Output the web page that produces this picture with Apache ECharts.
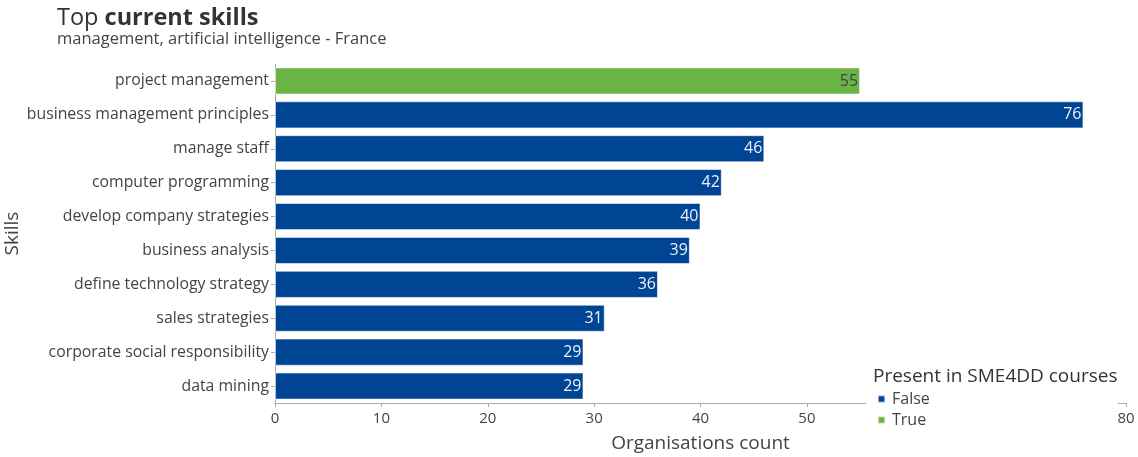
<!DOCTYPE html>
<html>
<head>
<meta charset="utf-8">
<script src="https://cdn.jsdelivr.net/npm/echarts@6/dist/echarts.min.js"></script>
<style>
  html, body { margin: 0; padding: 0; background: #fff; }
  #chart { width: 1138px; height: 457px; }
</style>
</head>
<body>
<div id="chart"></div>
<script>
// Skills, ordered top to bottom
const skills = [
  'project management',
  'business management principles',
  'manage staff',
  'computer programming',
  'develop company strategies',
  'business analysis',
  'define technology strategy',
  'sales strategies',
  'corporate social responsibility',
  'data mining'
];
// Organisations count per skill
const counts = [55, 76, 46, 42, 40, 39, 36, 31, 29, 29];
// Whether each skill is present in SME4DD courses
const inCourses = [true, false, false, false, false, false, false, false, false, false];
const xTicks = [0, 10, 20, 30, 40, 50, 60, 70, 80];

const BLUE = '#004494';
const GREEN = '#6ab445';
const FONT = '"Open Sans", "Noto Sans", sans-serif';

const falseData = counts.map((v, i) => inCourses[i] ? null : v);
const trueData = counts.map((v, i) => inCourses[i] ? v : null);

const chart = echarts.init(document.getElementById('chart'), null, { renderer: 'canvas' });

chart.setOption({
  animation: false,
  textStyle: { fontFamily: FONT },
  title: {
    left: 52,
    top: 1,
    text: 'Top {b|current skills}',
    subtext: 'management, artificial intelligence - France',
    itemGap: 1,
    textStyle: {
      fontFamily: FONT, fontSize: 23.5, fontWeight: 'normal', color: '#333',
      rich: { b: { fontFamily: FONT, fontSize: 23.5, fontWeight: 'bold', color: '#333' } }
    },
    subtextStyle: { fontFamily: FONT, fontSize: 16.5, color: '#444' }
  },
  grid: {
    left: 275, right: 12, top: 64, bottom: 54,
    containLabel: false,
    outerBoundsMode: 'none'
  },
  xAxis: {
    type: 'value',
    min: xTicks[0], max: xTicks[xTicks.length - 1], interval: 10,
    name: 'Organisations count',
    nameLocation: 'middle',
    nameGap: 31,
    nameMoveOverlap: false,
    nameTextStyle: { fontFamily: FONT, fontSize: 19, color: '#444' },
    splitLine: { show: false },
    axisLine: { show: true, lineStyle: { color: '#aaa', width: 1 } },
    axisTick: { show: true, length: 4, lineStyle: { color: '#aaa' } },
    axisLabel: { fontFamily: FONT, fontSize: 15, color: '#444', margin: 8 }
  },
  yAxis: {
    type: 'category',
    data: skills,
    inverse: true,
    name: 'Skills',
    nameLocation: 'middle',
    nameGap: 253,
    nameMoveOverlap: false,
    nameTextStyle: { fontFamily: FONT, fontSize: 19, color: '#444' },
    axisLine: { show: true, lineStyle: { color: '#aaa', width: 1 } },
    axisTick: { show: true, length: 4, alignWithLabel: true, lineStyle: { color: '#aaa' } },
    axisLabel: { fontFamily: FONT, fontSize: 15.8, color: '#444', margin: 6 }
  },
  legend: {
    orient: 'vertical',
    left: 872,
    top: 386,
    itemWidth: 7,
    itemHeight: 7,
    itemGap: 5,
    icon: 'rect',
    textStyle: { fontFamily: FONT, fontSize: 16, color: '#444', padding: [0, 0, 0, 2] },
    data: ['False', 'True']
  },
  graphic: [
    {
      type: 'rect',
      z: 3,
      shape: { x: 866, y: 362, width: 252, height: 72 },
      style: { fill: '#fff' }
    },
    {
      type: 'text',
      z: 5,
      left: 873,
      top: 367,
      style: { text: 'Present in SME4DD courses', font: '19px ' + FONT, fill: '#333' }
    }
  ],
  series: [
    {
      name: 'False',
      type: 'bar',
      data: falseData,
      barWidth: '80%',
      barGap: '-100%',
      itemStyle: { color: BLUE, borderColor: 'rgba(255,255,255,0.55)', borderWidth: 1 },
      label: {
        show: true, position: 'insideRight', distance: 2,
        fontFamily: FONT, fontSize: 16, color: '#eef2f8'
      }
    },
    {
      name: 'True',
      type: 'bar',
      data: trueData,
      barWidth: '80%',
      barGap: '-100%',
      itemStyle: { color: GREEN, borderColor: 'rgba(255,255,255,0.55)', borderWidth: 1 },
      label: {
        show: true, position: 'insideRight', distance: 2,
        fontFamily: FONT, fontSize: 16, color: '#444'
      }
    }
  ]
});
</script>
</body>
</html>
